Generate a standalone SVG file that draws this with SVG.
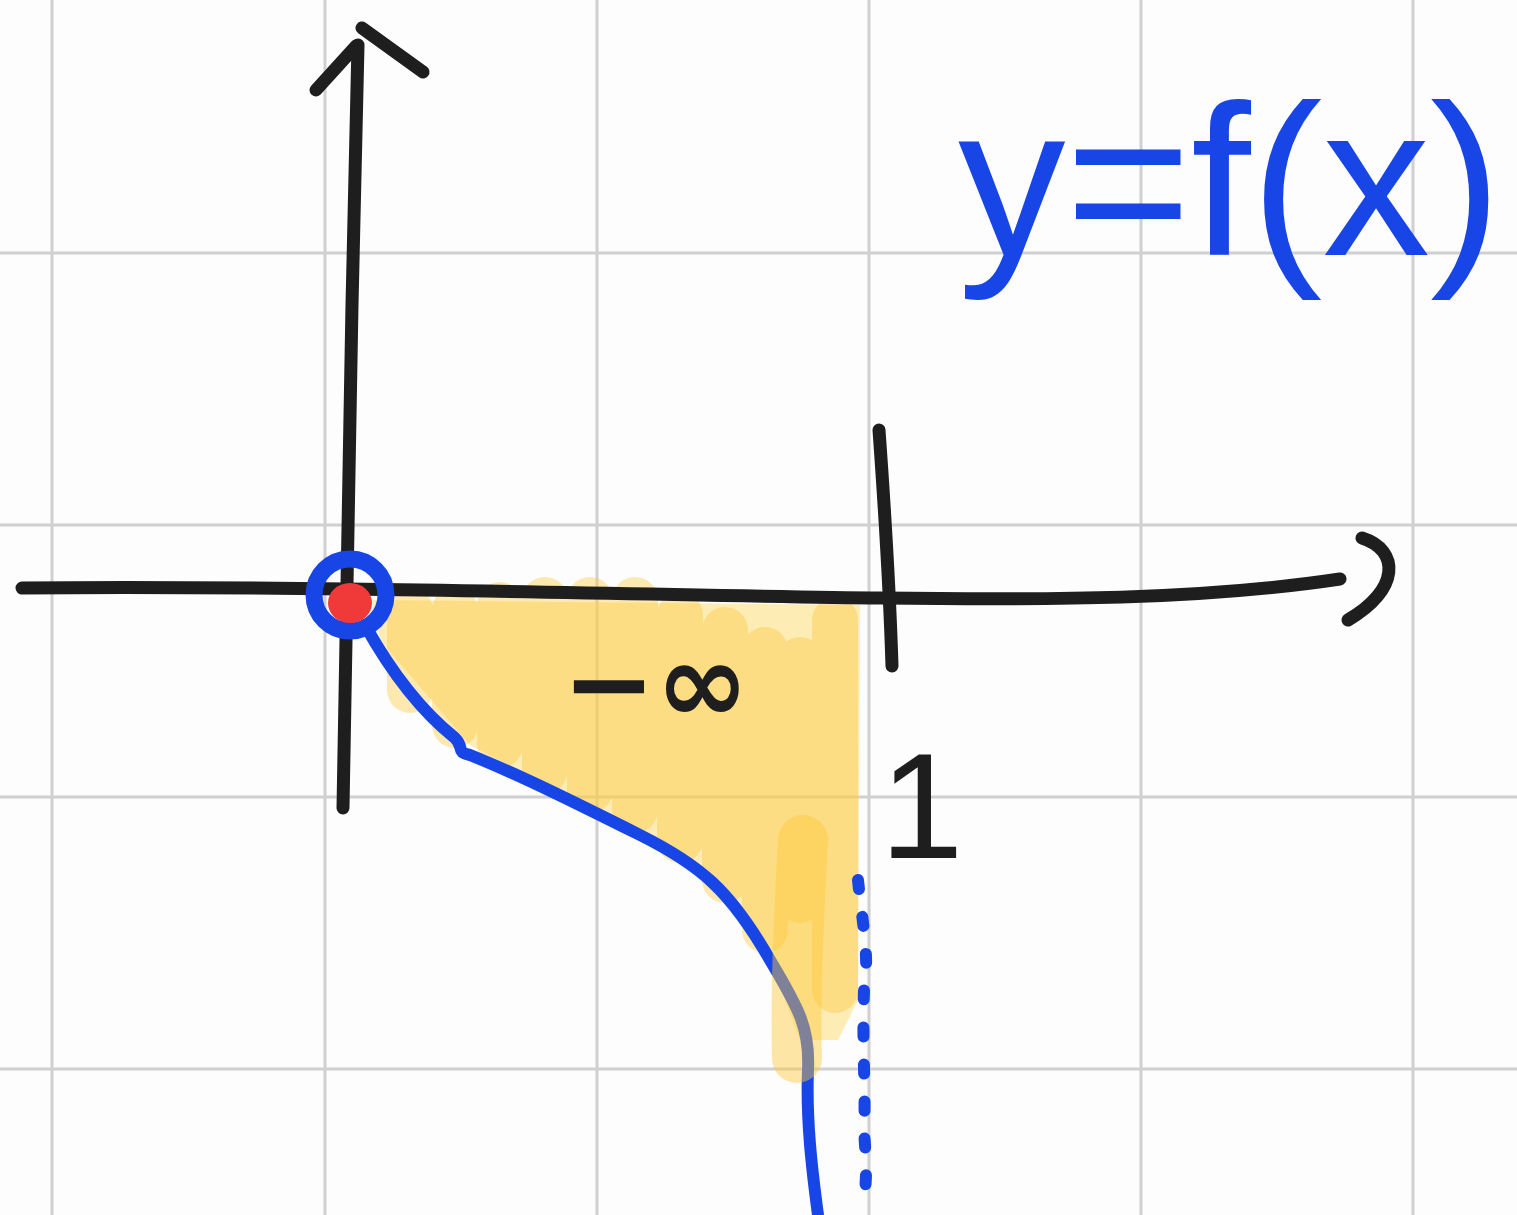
<svg xmlns="http://www.w3.org/2000/svg" width="1517" height="1215" viewBox="0 0 1517 1215">
<style>
.grid{stroke:#d0d0d0;stroke-width:3;fill:none}
.ink{stroke:#1e1e1e;stroke-width:13;fill:none;stroke-linecap:round;stroke-linejoin:round}
.blue{stroke:#1846e6;stroke-width:12;fill:none;stroke-linecap:round;stroke-linejoin:round}
.hl{stroke:#fcc93a;stroke-opacity:0.4;stroke-width:46;fill:none;stroke-linecap:round}
</style>
<rect width="1517" height="1215" fill="#fdfdfd"/>
<g id="grid">
<path class="grid" d="M52 0V1215M325 0V1215M597 0V1215M869 0V1215M1141 0V1215M1413 0V1215M0 253H1517M0 525H1517M0 797H1517M0 1069H1517"/>
</g>
<g id="shading">
<path d="M372 600 L860 605 L858 1000 L838 1040 L800 1040 L770 960 L720 880 L600 812 L470 745 L380 640 Z" fill="#fcd65a" fill-opacity="0.45"/>
<path class="hl" d="M410 610V690M455 610V725M500 605V745M545 600V770M590 600V790M635 600V810M680 615V840M725 630V880M765 650V930M800 660V900M835 620V990"/>
</g>
<g id="axes">
<path class="ink" d="M22 588 C300 585 700 596 880 598 C1050 600 1200 600 1340 579"/>
<path class="ink" d="M1362 538 C1400 550 1400 590 1348 620"/>
<path class="ink" d="M343 808 C345 600 352 300 358 45"/>
<path class="ink" d="M316 90 L356 46"/>
<path class="ink" d="M362 28 L423 72"/>
<path class="ink" d="M879 430 C884 500 890 600 892 666"/>
</g>
<g id="curve">
<path class="blue" d="M365 625 C390 670 420 710 455 738 C465 748 455 752 470 755 C520 775 580 805 640 835 C700 865 730 890 770 960 C800 1010 810 1030 808 1070 C806 1120 812 1170 818 1215"/>
<path class="blue" stroke-dasharray="9 28" d="M858 880 C862 920 870 960 864 990 C862 1040 866 1100 864 1130 C866 1160 868 1180 862 1212"/>
</g>
<g id="shading-over">
<path d="M803 840 C800 900 795 980 797 1058" stroke="#fcc93a" stroke-opacity="0.45" stroke-width="50" stroke-linecap="round" fill="none"/>
</g>
<g id="origin">
<circle cx="350" cy="595" r="36" fill="none" stroke="#1846e6" stroke-width="17"/>
<ellipse cx="350" cy="603" rx="22" ry="20" fill="#f03a3a"/>
</g>
<g id="labels">
<text x="562" y="722" font-family="DejaVu Sans, sans-serif" font-size="112" font-weight="bold" fill="#1e1e1e">−∞</text>
<text x="880" y="858" font-family="Liberation Sans, sans-serif" font-size="150" fill="#1e1e1e">1</text>
<text x="958" y="255" font-family="Liberation Sans, sans-serif" font-size="215" fill="#1846e6">y=f(x)</text>
</g>
</svg>
